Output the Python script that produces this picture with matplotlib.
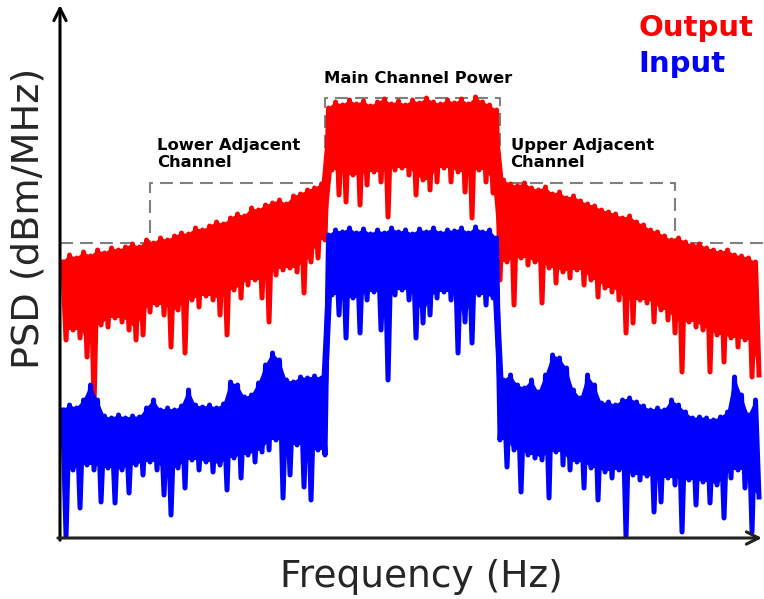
"""PSD of amplifier input vs output with channel-power mask (sketch)."""
import numpy as np
import matplotlib
matplotlib.use("Agg")
import matplotlib.pyplot as plt

# ---- spectrum samples (dBm/MHz), 0.4 MHz grid from -40 MHz
# even samples = local peaks, odd samples = local dips
F0, F_STEP = -40.0, 0.4

red_lower = [-51.4, -67, -50, -65, -50.6, -66.6, -49.4, -70.4, -50.2, -80,
             -49, -64, -49.6, -64.4, -48.6, -62.6, -49, -63.4, -48.4, -65,
             -47.8, -67, -48.4, -66, -47, -61.4, -47.6, -60, -46.6, -62,
             -47, -68.4, -46.2, -61, -45.6, -69.6, -45.8, -59, -44.6, -60.4,
             -45, -58.2, -44.2, -59, -43.4, -62, -43.8, -66, -42.6, -57,
             -41.8, -58.6, -42.2, -56, -40.6, -55, -41, -58.6, -40, -63.4,
             -39.6, -54, -39, -53, -39.8, -52.6, -38.2, -53.4, -37.8, -57.6,
             -37, -51.4, -36.6, -50.6, -35.8, -47]
red_main = [-20.6, -33, -19.4, -38, -20, -39.4, -19, -34, -19.8, -40,
            -19.2, -36, -20.2, -33.4, -19.4, -35.4, -18.8, -42.4, -19.8, -33,
            -19.2, -32.6, -20, -34, -19, -38, -19.6, -35, -18.6, -37,
            -19.4, -35.4, -19.8, -32.6, -19, -35.4, -19.6, -33.4, -18.8, -37.4,
            -19.8, -42.6, -18.4, -33, -19.4, -35.4, -20, -37.6, -21]
red_upper = [-55, -35, -51.4, -35.8, -60, -36.2, -50.6, -35.6, -52, -36.6,
             -51.4, -37, -59.6, -36.4, -52.6, -37.8, -55.6, -37.4, -53.4, -38.6,
             -54.6, -38.2, -53, -39.2, -56, -39.8, -55, -40.2, -58.4, -41,
             -56.6, -41.4, -57.4, -41.8, -59, -42.6, -65.6, -42.2, -63.6, -43.4,
             -59, -44, -59.6, -45, -63.4, -45.4, -61, -46.2, -63, -47,
             -65.6, -46.6, -73.4, -47.4, -63.4, -48, -64.4, -47.8, -65, -48.6,
             -73.4, -49, -66, -49.4, -71.4, -49, -66.6, -50, -68.4, -50.2,
             -67, -50.6, -74.4, -51.4, -74]

blue_lower = [-81, -106.4, -80, -93, -80.6, -100.6, -79, -92, -76, -93,
              -79, -99.4, -82.2, -92.6, -82.6, -99.6, -82, -93, -82.6, -97.6,
              -82.2, -92, -82.4, -94, -80.6, -91.4, -79, -93, -81, -98,
              -80.6, -102, -81, -92.6, -80.2, -96.6, -77, -91, -80, -93,
              -80.4, -91.4, -80, -93.4, -80.6, -92, -79.8, -97, -75.4, -90.6,
              -76, -94.6, -78.4, -90, -78, -91.4, -75.6, -89.4, -72, -89,
              -69.6, -87, -71, -98.6, -75, -94, -75.4, -88, -74.4, -96.4,
              -74.6, -99, -74.2, -89, -74.6, -90]
blue_main = [-46, -58, -45, -62, -45.4, -66.6, -44.6, -58.6, -45.6, -65.6,
             -44.8, -59, -45.8, -57.4, -45, -65, -45.6, -75, -44.6, -58,
             -45.4, -57, -45, -59, -45.8, -66.6, -44.8, -63.6, -45.4, -62,
             -44.6, -58.6, -45.6, -57.4, -45, -59, -45.2, -69.6, -44.6, -63.4,
             -45.6, -67.6, -44.4, -58, -45.4, -60, -45, -58.6, -46.6]
blue_upper = [-87, -75, -92.4, -74, -89, -76, -97.4, -76.6, -90, -75,
              -90.6, -77.4, -91, -74, -98.6, -70, -89.4, -70.6, -92, -72.6,
              -93, -77, -91.4, -78.6, -96.6, -74, -92.6, -76, -99, -79.6,
              -93.4, -79.4, -94.6, -80, -93, -79, -106.4, -78.6, -94, -79.4,
              -95, -80.2, -94.2, -81, -101.4, -80.6, -99.4, -81, -94.6, -79,
              -96, -80, -105.4, -81.4, -95, -82.6, -100, -82.4, -95.4, -82.6,
              -99.6, -83, -96, -82.4, -102.6, -81.4, -94.6, -74.4, -93, -78,
              -96.6, -82, -105.4, -79, -98.4]

# ---- channel mask (MHz, dBm/MHz)
MASK_F = [-40.3, -30, -30, -10, -10, 10, 10, 30, 30, 40.2]
MASK_P = [-47.6, -47.6, -35.6, -35.6, -18.6, -18.6, -35.6, -35.6, -47.6, -47.6]


def draw_trace(ax, segments, color, z):
    y = np.concatenate([np.asarray(s, float) for s in segments])
    x = F0 + F_STEP * np.arange(len(y))
    # solid core of the noise band: peaks down to the shallower neighbouring dips
    fx, fy, start = [], [], 0
    for s in segments:
        idx = np.arange(start, start + len(s))
        li = idx[idx % 2 == 1]
        lows = y[li]
        floor = lows.copy()
        floor[1:] = np.maximum(floor[1:], lows[:-1])
        floor[:-1] = np.maximum(floor[:-1], lows[1:])
        fx.append(x[li]); fy.append(floor)
        start += len(s)
    fx, fy = np.concatenate(fx), np.concatenate(fy)
    ax.fill(np.r_[x[0::2], fx[::-1]], np.r_[y[0::2], fy[::-1]],
            color=color, lw=0, zorder=z)
    ax.plot(x, y, color=color, lw=3.6, zorder=z)


W, H = 764, 599
fig = plt.figure(figsize=(W / 100, H / 100), dpi=100)
ax = fig.add_axes([60 / W, 1 - 538 / H, 702 / W, 533 / H])
ax.set_xlim(-40.29, 39.94)
ax.set_ylim(-106.6, 0)
ax.axis("off")

ax.plot(MASK_F, MASK_P, color="#808080", lw=1.5, dashes=(6.2, 3.4),
        clip_on=False, zorder=1)
draw_trace(ax, [red_lower, red_main, red_upper], "#ff0000", 2)
draw_trace(ax, [blue_lower, blue_main, blue_upper], "#0000ff", 3)

# axes drawn as arrows
ax.annotate("", xy=(0, 1), xytext=(0, -0.004), xycoords="axes fraction",
            arrowprops=dict(arrowstyle="->", lw=2.2, color="black",
                            mutation_scale=22, shrinkA=0, shrinkB=0))
ax.annotate("", xy=(1, 0), xytext=(-0.003, 0), xycoords="axes fraction",
            arrowprops=dict(arrowstyle="->", lw=2.2, color="#222222",
                            mutation_scale=22, shrinkA=0, shrinkB=0))

bold = dict(fontsize=11.8, fontweight="bold", color="black")
ax.text(0.63, -15.6, "Main Channel Power", ha="center", va="baseline", **bold)
ax.text(-29.2, -29.0, "Lower Adjacent", ha="left", va="baseline", **bold)
ax.text(-29.2, -32.4, "Channel", ha="left", va="baseline", **bold)
ax.text(11.2, -29.0, "Upper Adjacent", ha="left", va="baseline", **bold)
ax.text(11.2, -32.4, "Channel", ha="left", va="baseline", **bold)

fig.text(638 / W, 1 - 36 / H, "Output", color="#ff0000", fontsize=21,
         fontweight="bold", ha="left", va="baseline")
fig.text(638 / W, 1 - 72 / H, "Input", color="#0000ff", fontsize=21,
         fontweight="bold", ha="left", va="baseline")

fig.text(421 / W, 1 - 587 / H, "Frequency (Hz)", fontsize=27, color="#262626",
         ha="center", va="baseline")
fig.text(28.5 / W, 1 - 218.5 / H, "PSD (dBm/MHz)", fontsize=27.5, color="#262626",
         rotation=90, ha="center", va="center")

fig.savefig("out.png", dpi=100)
